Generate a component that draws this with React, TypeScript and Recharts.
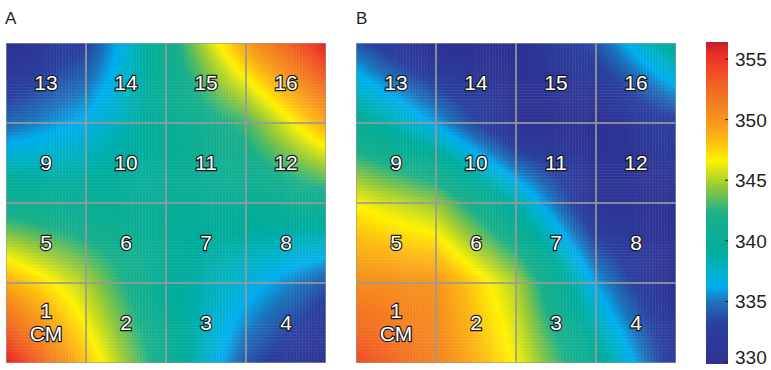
import React from 'react'
import { ScatterChart, Scatter, XAxis, YAxis, ReferenceArea } from 'recharts'

// valeurs lues aux coins de la grille 5x5 (ligne du haut en premier)
const gridA = [
  [330, 333, 341, 349.5, 356],
  [334.5, 336.5, 340, 343, 349],
  [341, 340, 340, 340, 341],
  [349, 345, 339.5, 337, 334],
  [356, 348, 341, 334, 330],
]

const gridB = [
  [334, 330, 330, 334, 340],
  [340, 336, 330.5, 330, 333],
  [346.5, 344.5, 338.5, 331, 330],
  [350.5, 350, 345, 336, 330],
  [354, 351, 346.5, 340, 332],
]

const cellLabels = [
  ['13', '14', '15', '16'],
  ['9', '10', '11', '12'],
  ['5', '6', '7', '8'],
  ['1\nCM', '2', '3', '4'],
]

const colorbarTicks = [330, 335, 340, 345, 350, 355]
const colorbarDomain: [number, number] = [329.84, 356.4]

// palette (valeur -> couleur)
const paletteValues = [330, 333.2, 335, 336.2, 337.6, 339, 342.3, 344.3, 346.6, 348.3, 350, 352.5, 355.3, 356.4]
const paletteColors = [
  '#2e3192', '#2b41a0', '#1c75bc', '#00aeef', '#00b2c6', '#00ad9d', '#1bb08a',
  '#8dc63f', '#fff200', '#fdba12', '#f7941d', '#f26a24', '#ed2f26', '#be1e2d',
]

const PANEL = 320
const CELL = PANEL / 4
const SUB = 27
const FONT = '"Liberation Sans", Arial, sans-serif'
const TEXT = '#231f20'

const hexToRgb = (h: string) => [
  parseInt(h.slice(1, 3), 16),
  parseInt(h.slice(3, 5), 16),
  parseInt(h.slice(5, 7), 16),
]
const paletteRgb = paletteColors.map(hexToRgb)

const couleur = (v: number) => {
  if (v <= paletteValues[0]) return paletteColors[0]
  const last = paletteValues.length - 1
  if (v >= paletteValues[last]) return paletteColors[last]
  let i = 0
  while (v > paletteValues[i + 1]) i++
  const t = (v - paletteValues[i]) / (paletteValues[i + 1] - paletteValues[i])
  const a = paletteRgb[i]
  const b = paletteRgb[i + 1]
  const c = a.map((x, k) => Math.round(x + (b[k] - x) * t))
  return `rgb(${c[0]},${c[1]},${c[2]})`
}

const buildCells = (grid: number[][]) => {
  const cells: any[] = []
  for (let r = 0; r < 4; r++) {
    for (let c = 0; c < 4; c++) {
      cells.push({
        x: c + 0.5,
        y: 3.5 - r,
        label: cellLabels[r][c],
        tl: grid[r][c],
        tr: grid[r][c + 1],
        bl: grid[r + 1][c],
        br: grid[r + 1][c + 1],
      })
    }
  }
  return cells
}

const FillShape = (props: any) => {
  const { cx, cy, payload } = props
  if (cx == null || cy == null) return null
  const x0 = cx - CELL / 2
  const y0 = cy - CELL / 2
  const step = CELL / SUB
  const rects = []
  for (let j = 0; j < SUB; j++) {
    for (let i = 0; i < SUB; i++) {
      const u = (i + 0.5) / SUB
      const v = (j + 0.5) / SUB
      const top = payload.tl + (payload.tr - payload.tl) * u
      const bot = payload.bl + (payload.br - payload.bl) * u
      const val = top + (bot - top) * v
      rects.push(
        <rect
          key={`${i}-${j}`}
          x={x0 + i * step}
          y={y0 + j * step}
          width={step + 0.4}
          height={step + 0.4}
          fill={couleur(val)}
        />
      )
    }
  }
  return <g>{rects}</g>
}

const BorderShape = (props: any) => {
  const { cx, cy, payload } = props
  if (cx == null || cy == null) return null
  const lines = String(payload.label).split('\n')
  const textProps = {
    fill: '#ffffff',
    stroke: '#1a1a1a',
    strokeWidth: 2.4,
    paintOrder: 'stroke' as const,
    fontFamily: FONT,
    fontSize: 21,
    textAnchor: 'middle' as const,
  }
  return (
    <g>
      <rect x={cx - CELL / 2} y={cy - CELL / 2} width={CELL} height={CELL} fill="none" stroke="#9a9a9a" strokeWidth={1.2} />
      {lines.length === 1 ? (
        <text x={cx} y={cy + 7} {...textProps}>{lines[0]}</text>
      ) : (
        <>
          <text x={cx} y={cy - 5} {...textProps}>{lines[0]}</text>
          <text x={cx} y={cy + 18} {...textProps}>{lines[1]}</text>
        </>
      )}
    </g>
  )
}

function Panneau({ grid }: { grid: number[][] }) {
  const cells = buildCells(grid)
  return (
    <ScatterChart width={PANEL} height={PANEL} margin={{ top: 0, right: 0, bottom: 0, left: 0 }}>
      <XAxis type="number" dataKey="x" domain={[0, 4]} hide />
      <YAxis type="number" dataKey="y" domain={[0, 4]} hide />
      <Scatter data={cells} shape={FillShape} isAnimationActive={false} />
      <Scatter data={cells} shape={BorderShape} isAnimationActive={false} />
    </ScatterChart>
  )
}

const TickColorbar = (props: any) => {
  const { x, y, payload } = props
  // le dernier libellé (330) est remonté pour rester dans l'image
  const base = Math.min(y + 7, 364)
  return (
    <g>
      <line x1={x - 3} y1={y} x2={x} y2={y} stroke={TEXT} strokeWidth={1} />
      <text x={x + 7} y={base} fill={TEXT} fontFamily={FONT} fontSize={19}>{payload.value}</text>
    </g>
  )
}

function BarreCouleur() {
  const [min, max] = colorbarDomain
  const tickData = colorbarTicks.map((t) => ({ x: 0.5, y: t }))
  return (
    <ScatterChart width={71} height={370} margin={{ top: 42, right: 0, bottom: 6, left: 6 }}>
      <defs>
        <linearGradient id="cbar" x1="0" y1="1" x2="0" y2="0">
          {paletteValues.map((v, i) => (
            <stop key={v} offset={(v - min) / (max - min)} stopColor={paletteColors[i]} />
          ))}
        </linearGradient>
      </defs>
      <XAxis type="number" dataKey="x" domain={[0, 1]} hide />
      <YAxis
        type="number"
        dataKey="y"
        orientation="right"
        domain={colorbarDomain}
        ticks={colorbarTicks}
        interval={0}
        width={43}
        axisLine={false}
        tickLine={false}
        tickSize={0}
        tickMargin={0}
        tick={TickColorbar}
        allowDataOverflow
      />
      <ReferenceArea x1={0} x2={1} y1={min} y2={max} fill="url(#cbar)" fillOpacity={1} stroke="none" ifOverflow="visible" />
      <Scatter data={tickData} shape={() => null} isAnimationActive={false} />
    </ScatterChart>
  )
}

export default function App() {
  const lettre = { position: 'absolute' as const, top: 9, fontFamily: FONT, fontSize: 17, color: TEXT }
  return (
    <div style={{ position: 'absolute', left: 0, top: 0, width: 771, height: 370, background: '#fff', overflow: 'hidden' }}>
      <div style={{ ...lettre, left: 5 }}>A</div>
      <div style={{ ...lettre, left: 356 }}>B</div>
      <div style={{ position: 'absolute', left: 6, top: 43 }}>
        <Panneau grid={gridA} />
      </div>
      <div style={{ position: 'absolute', left: 356, top: 43 }}>
        <Panneau grid={gridB} />
      </div>
      <div style={{ position: 'absolute', left: 700, top: 0 }}>
        <BarreCouleur />
      </div>
    </div>
  )
}
